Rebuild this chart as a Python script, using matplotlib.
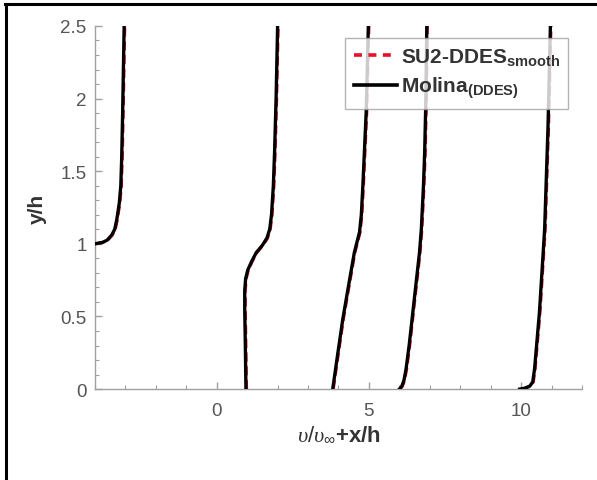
import matplotlib
matplotlib.use("Agg")
import matplotlib.pyplot as plt
from matplotlib.lines import Line2D
from matplotlib.ticker import MultipleLocator

plt.rcParams["font.family"] = "Liberation Sans"
plt.rcParams["mathtext.fontset"] = "custom"
plt.rcParams["mathtext.rm"] = "Liberation Sans"
plt.rcParams["mathtext.bf"] = "Liberation Sans:bold"
plt.rcParams["mathtext.it"] = "Liberation Serif:italic"

# Stations x/h for the five profiles
stations = [-4, 1, 4, 6, 10]

# Wall-normal positions y/h for each profile
y_prof = [
    [1.0, 1.01, 1.025, 1.06, 1.1, 1.17, 1.28, 1.4, 1.6, 1.9, 2.5],
    [0.0, 0.3, 0.55, 0.68, 0.76, 0.82, 0.88, 0.94, 0.99, 1.04, 1.1, 1.2, 1.4, 1.63, 2.0, 2.5],
    [0.0, 0.25, 0.48, 0.7, 0.94, 1.08, 1.2, 1.4, 1.91, 2.5],
    [0.0, 0.02, 0.06, 0.14, 0.3, 0.64, 0.94, 1.1, 1.4, 1.63, 2.0, 2.5],
    [0.0, 0.005, 0.02, 0.05, 0.14, 0.53, 1.1, 1.8, 2.5],
]

# Molina (DDES) velocity v/v_inf
v_molina = [
    [0.0, 0.25, 0.4, 0.55, 0.65, 0.72, 0.8, 0.85, 0.88, 0.91, 0.96],
    [-0.04, -0.06, -0.08, -0.08, -0.05, 0.02, 0.15, 0.3, 0.5, 0.65, 0.74, 0.8, 0.86, 0.9, 0.95, 1.0],
    [-0.19, -0.02, 0.14, 0.32, 0.52, 0.69, 0.75, 0.8, 0.91, 0.98],
    [0.0, 0.08, 0.15, 0.22, 0.32, 0.5, 0.66, 0.72, 0.79, 0.83, 0.87, 0.9],
    [-0.05, 0.1, 0.28, 0.38, 0.44, 0.6, 0.77, 0.88, 0.96],
]

# SU2-DDES smooth velocity v/v_inf
v_su2 = [
    [0.0, 0.27, 0.42, 0.57, 0.67, 0.74, 0.82, 0.87, 0.9, 0.93, 0.98],
    [-0.02, -0.04, -0.06, -0.06, -0.03, 0.04, 0.17, 0.32, 0.52, 0.67, 0.76, 0.82, 0.88, 0.92, 0.97, 1.02],
    [-0.17, 0.0, 0.16, 0.34, 0.54, 0.71, 0.77, 0.82, 0.93, 1.0],
    [0.02, 0.1, 0.17, 0.24, 0.34, 0.52, 0.68, 0.74, 0.81, 0.85, 0.89, 0.92],
    [-0.03, 0.12, 0.3, 0.4, 0.46, 0.62, 0.79, 0.9, 0.98],
]

fig = plt.figure(figsize=(5.97, 4.81), dpi=100)
ax = fig.add_axes([0.159, 0.189, 0.816, 0.755])

for st, yy, vm, vs in zip(stations, y_prof, v_molina, v_su2):
    ax.plot([st + v for v in vs], yy, color="#e8102a", lw=2.2,
            linestyle=(0, (3, 1.5)), zorder=2)
    ax.plot([st + v for v in vm], yy, color="black", lw=2.4, zorder=3,
            solid_joinstyle="round")

ax.set_xlim(-4, 12)
ax.set_ylim(0, 2.5)
ax.set_xticks([0, 5, 10])
ax.set_yticks([0, 0.5, 1, 1.5, 2, 2.5])
ax.set_yticklabels(["0", "0.5", "1", "1.5", "2", "2.5"])
ax.xaxis.set_minor_locator(MultipleLocator(1))
ax.yaxis.set_minor_locator(MultipleLocator(0.1))

for s in ["top", "right"]:
    ax.spines[s].set_visible(False)
for s in ["left", "bottom"]:
    ax.spines[s].set_color("#a0a0a0")
    ax.spines[s].set_linewidth(1.0)

ax.tick_params(which="both", direction="in", colors="#a0a0a0",
               labelcolor="#555555", labelsize=13.5)
ax.tick_params(which="major", length=5, width=1)
ax.tick_params(which="minor", length=3, width=0.8)
ax.tick_params(axis="x", pad=9)
ax.tick_params(axis="y", pad=6)

ax.set_ylabel("y/h", fontsize=15, fontweight="bold", color="#333333", labelpad=10)
ax.set_xlabel(r"$\upsilon/\upsilon_{\infty}$+x/h", fontsize=16,
              fontweight="bold", color="#333333", labelpad=4)

handles = [
    Line2D([], [], color="#e8102a", lw=2.6, linestyle=(0, (2.2, 1.8))),
    Line2D([], [], color="black", lw=2.6),
]
labels = [r"SU2-DDES$_{\mathbf{smooth}}$", r"Molina$_{\mathbf{(DDES)}}$"]
leg = ax.legend(handles, labels, loc="upper right",
                bbox_to_anchor=(0.972, 0.968), frameon=True, fancybox=False,
                prop={"weight": "bold", "size": 15}, handlelength=2.1,
                handletextpad=0.15, borderpad=0.4, labelspacing=0.4,
                borderaxespad=0)
leg.get_frame().set_edgecolor("#a0a0a0")
leg.get_frame().set_linewidth(1.0)
leg.set_zorder(5)
for t in leg.get_texts():
    t.set_color("#333333")

# Frame lines at the top and left of the picture
fig.add_artist(Line2D([0.009, 1.0], [0.9886, 0.9886], color="black", lw=2.2,
                      transform=fig.transFigure))
fig.add_artist(Line2D([0.0105, 0.0105], [0.0, 0.9886], color="black", lw=2.2,
                      transform=fig.transFigure))

fig.savefig("out.png", dpi=100, facecolor="white")
